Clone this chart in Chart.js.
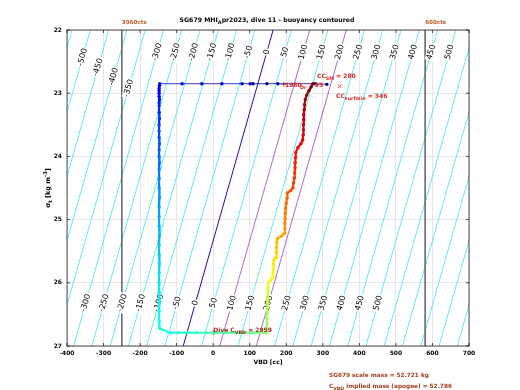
<!DOCTYPE html>
<html>
<head>
<script src="https://cdn.jsdelivr.net/npm/chart.js@4"></script>
<style>body{margin:0;background:#fff}</style>
</head>
<body>
<canvas id="chart" width="520" height="390"></canvas>
<script>
// buoyancy contour levels [cc]
var levels = [-550,-500,-450,-400,-350,-300,-250,-200,-150,-100,-50,0,50,100,150,200,250,300,350,400,450,500,550,600,650,700,750];
// contour geometry: VBD of a level at sigma_t 22, and its drift per sigma unit
var vbdAt22 = 164;
var vbdPerSigma = -49.2;

var topLabelLevels = [-500,-450,-400,-350,-300,-250,-200,-150,-100,-50,0,50,100,150,200,250,300,350,400,450,500];
var topLabelSigma  = [22.43,22.59,22.74,22.92,22.35,22.35,22.35,22.35,22.35,22.35,22.35,22.35,22.35,22.35,22.35,22.35,22.35,22.35,22.35,22.35,22.35];
var bottomLabelLevels = [-300,-250,-200,-150,-100,-50,0,50,100,150,200,250,300,350,400,450,500];
var bottomLabelSigma = 26.32;

// dive profile (surface, descent, apogee pump, climb)
var profileVbd = [311,279,177,147,109,101,79,24,-31,-85,-146,
  -147,-148,-148,-148,-148,-147,-148,-148,-148,-147,-148,-148,-148,-147,-148,-148,-147,-148,-148,-148,-147,-148,-148,-148,-147,-148,-148,-147,-148,-148,-148,-147,-148,-148,-147,
  -120,-95,-70,-45,-20,5,30,55,80,105,125,140,
  145,146,147,147,148,148,149,149,150,150,151,158,162,164,164,165,166,172,173,173,174,176,188,194,196,196,197,197,198,200,202,203,212,218,220,222,223,224,224,225,226,232,240,245,246,247,247,248,248,249,250,252,256,262,268,273];
var profileSigma = [22.86,22.85,22.85,22.85,22.85,22.85,22.85,22.85,22.85,22.85,22.85,
  22.88,22.92,22.96,23.00,23.05,23.10,23.15,23.20,23.30,23.40,23.50,23.60,23.70,23.80,23.90,24.00,24.10,24.20,24.35,24.50,24.65,24.80,24.95,25.10,25.25,25.40,25.55,25.70,25.85,26.00,26.15,26.30,26.45,26.60,26.72,
  26.79,26.79,26.79,26.79,26.79,26.79,26.79,26.79,26.79,26.79,26.79,26.79,
  26.79,26.72,26.64,26.56,26.48,26.40,26.32,26.24,26.16,26.08,26.00,25.96,25.92,25.85,25.78,25.70,25.64,25.60,25.52,25.44,25.36,25.30,25.26,25.22,25.14,25.06,24.98,24.90,24.82,24.74,24.66,24.58,24.54,24.50,24.42,24.34,24.26,24.18,24.10,24.02,23.94,23.86,23.80,23.74,23.66,23.58,23.50,23.42,23.34,23.26,23.18,23.10,23.03,22.96,22.90,22.85];
var surfaceCount = 11;

var ctsVbd = [-250, 580];
var ctsLabels = ['3960cts', '600cts'];
var ccSm = 280, ccSurfmin = 346, surfSigma = 22.89;
var diveCvbd = 2959, apogeeSigma = 26.79;

function jet(t) {
  function c(v) { return Math.max(0, Math.min(1, v)); }
  var r = c(Math.min(4*t-1.5, -4*t+4.5)), g = c(Math.min(4*t-0.5, -4*t+3.5)), b = c(Math.min(4*t+0.5, -4*t+2.5));
  return 'rgb(' + Math.round(r*255) + ',' + Math.round(g*255) + ',' + Math.round(b*255) + ')';
}
var colors = profileVbd.map(function(v, i) { return jet(i / (profileVbd.length - 1)); });

function contourVbd(level, sigma) { return level + vbdAt22 + vbdPerSigma * (sigma - 22); }

var FONT = '"DejaVu Sans"';
function richText(ctx, parts, x, y, size, weight, color, align) {
  ctx.save();
  ctx.fillStyle = color;
  ctx.textAlign = 'left';
  ctx.textBaseline = 'alphabetic';
  var w = 0;
  parts.forEach(function(p) {
    ctx.font = weight + ' ' + (p[1] ? size * 0.8 : size) + 'px ' + FONT;
    w += ctx.measureText(p[0]).width;
  });
  var cx = align === 'center' ? x - w / 2 : x;
  parts.forEach(function(p) {
    var s = p[1] ? size * 0.8 : size;
    ctx.font = weight + ' ' + s + 'px ' + FONT;
    var dy = p[1] === 'sub' ? size * 0.35 : (p[1] === 'sup' ? -size * 0.45 : 0);
    ctx.fillText(p[0], cx, y + dy);
    cx += ctx.measureText(p[0]).width;
  });
  ctx.restore();
}

var datasets = [];
datasets.push({
  data: profileVbd.map(function(v, i) { return {x: v, y: profileSigma[i]}; }),
  showLine: true,
  borderWidth: 2.2,
  segment: {
    borderColor: function(ctx) { return colors[ctx.p0DataIndex]; },
    borderWidth: function(ctx) { return ctx.p1DataIndex < surfaceCount ? 0.8 : 2.2; }
  },
  pointRadius: 1.7,
  pointBorderWidth: 0,
  pointBackgroundColor: colors
});
datasets.push({
  data: [{x: ccSurfmin, y: surfSigma}],
  showLine: false, pointStyle: 'crossRot', pointRadius: 2.5, borderWidth: 0.8, borderColor: '#e02020'
});
datasets.push({
  data: [{x: 0, y: apogeeSigma}, {x: 193, y: 22.86}],
  showLine: false, pointStyle: 'cross', pointRadius: 2.5, borderWidth: 0.8, borderColor: '#c03020'
});
ctsVbd.forEach(function(v) {
  datasets.push({data: [{x: v, y: 22}, {x: v, y: 27}], borderColor: '#606060', borderWidth: 0.8, pointRadius: 0});
});
levels.forEach(function(l) {
  var col = l === 0 ? '#1010c8' : (l === 100 || l === 200 ? '#9040d8' : '#38e4f0');
  datasets.push({
    data: [{x: contourVbd(l, 22), y: 22}, {x: contourVbd(l, 27), y: 27}],
    borderColor: col, borderWidth: l === 0 ? 1 : 0.8, pointRadius: 0, clip: 0
  });
});

var decor = {
  id: 'decor',
  beforeDatasetDraw: function(chart, args) {
    if (args.index !== 0) return;
    var ctx = chart.ctx, xs = chart.scales.x, ys = chart.scales.y, a = chart.chartArea;
    var ang = Math.atan2(ys.getPixelForValue(22) - ys.getPixelForValue(27),
      xs.getPixelForValue(contourVbd(0, 22)) - xs.getPixelForValue(contourVbd(0, 27)));
    function label(l, s) {
      var px = xs.getPixelForValue(contourVbd(l, s)), py = ys.getPixelForValue(s);
      ctx.save();
      ctx.beginPath(); ctx.rect(a.left, a.top, a.right - a.left, a.bottom - a.top); ctx.clip();
      ctx.translate(px, py); ctx.rotate(ang);
      ctx.font = '8px ' + FONT;
      var t = String(l), w = ctx.measureText(t).width;
      ctx.fillStyle = '#fff';
      ctx.fillRect(-w / 2 - 1, -4.5, w + 2, 9);
      ctx.fillStyle = '#000'; ctx.textAlign = 'center'; ctx.textBaseline = 'middle';
      ctx.fillText(t, 0, 0);
      ctx.restore();
    }
    topLabelLevels.forEach(function(l, i) { label(l, topLabelSigma[i]); });
    bottomLabelLevels.forEach(function(l) { label(l, bottomLabelSigma); });
  },
  afterDraw: function(chart) {
    var ctx = chart.ctx, xs = chart.scales.x, ys = chart.scales.y, a = chart.chartArea;
    ctx.save();
    ctx.strokeStyle = '#222'; ctx.lineWidth = 0.8;
    ctx.strokeRect(a.left, a.top, a.right - a.left, a.bottom - a.top);
    ctx.beginPath();
    for (var v = -400; v <= 700; v += 100) {
      var px = xs.getPixelForValue(v);
      ctx.moveTo(px, a.bottom); ctx.lineTo(px, a.bottom - 3);
      ctx.moveTo(px, a.top); ctx.lineTo(px, a.top + 3);
    }
    for (var s = 22; s <= 27; s++) {
      var py = ys.getPixelForValue(s);
      ctx.moveTo(a.left, py); ctx.lineTo(a.left + 3, py);
      ctx.moveTo(a.right, py); ctx.lineTo(a.right - 3, py);
    }
    ctx.stroke();
    ctx.restore();

    richText(ctx, [['SG679 MHI'], ['A', 'sub'], ['pr2023, dive 11 - buoyancy contoured']], 267, 22, 6.2, 'bold', '#000', 'center');
    ctsVbd.forEach(function(v, i) {
      richText(ctx, [[ctsLabels[i]]], xs.getPixelForValue(v), 24, 5.6, 'bold', '#c0602a', 'left');
    });
    richText(ctx, [['VBD [cc]']], 268, 364, 6, 'bold', '#000', 'center');
    ctx.save();
    ctx.translate(50, 188); ctx.rotate(-Math.PI / 2);
    richText(ctx, [['\u03c3'], ['t', 'sub'], [' [kg m'], ['-3', 'sup'], [']']], 0, 0, 6.5, 'bold', '#000', 'center');
    ctx.restore();

    richText(ctx, [['CC'], ['SM', 'sub'], [' = ' + ccSm]], 317, 78, 6, 'bold', '#e02020', 'left');
    richText(ctx, [['CC'], ['surfmin', 'sub'], [' = ' + ccSurfmin]], 336, 98, 6, 'bold', '#e02020', 'left');
    richText(ctx, [['1980']], 285, 87, 6, 'bold', '#e02020', 'left');
    richText(ctx, [['Dr', 'sub'], ['    95']], 300, 87, 6, 'bold', '#e02020', 'left');
    richText(ctx, [['Dive C'], ['VBD', 'sub'], [' = ' + diveCvbd]], xs.getPixelForValue(0), ys.getPixelForValue(apogeeSigma) - 1, 6, 'bold', '#a03020', 'left');

    richText(ctx, [['SG679 scale mass = 52.721 kg']], 329, 377, 5.8, 'bold', '#a0401a', 'left');
    richText(ctx, [['C'], ['VBD', 'sub'], [' implied mass (apogee) = 52.786']], 329, 388, 5.8, 'bold', '#a0401a', 'left');
  }
};

new Chart(document.getElementById('chart'), {
  type: 'line',
  data: {datasets: datasets},
  options: {
    responsive: false,
    animation: false,
    events: [],
    layout: {padding: {top: 30, right: 51, left: 0, bottom: 0}},
    plugins: {legend: {display: false}, tooltip: {enabled: false}},
    scales: {
      x: {
        type: 'linear', min: -400, max: 700,
        afterFit: function(s) { s.height = 44; },
        border: {display: false},
        grid: {color: '#e6e6e6', drawTicks: false},
        ticks: {stepSize: 100, padding: 4, color: '#000', font: {family: 'DejaVu Sans', size: 6, weight: 'bold'}}
      },
      y: {
        type: 'linear', min: 22, max: 27, reverse: true,
        afterFit: function(s) { s.width = 67; },
        border: {display: false},
        grid: {color: '#e6e6e6', drawTicks: false},
        ticks: {stepSize: 1, padding: 5, color: '#000', font: {family: 'DejaVu Sans', size: 6, weight: 'bold'}}
      }
    }
  },
  plugins: [decor]
});
</script>
</body>
</html>
